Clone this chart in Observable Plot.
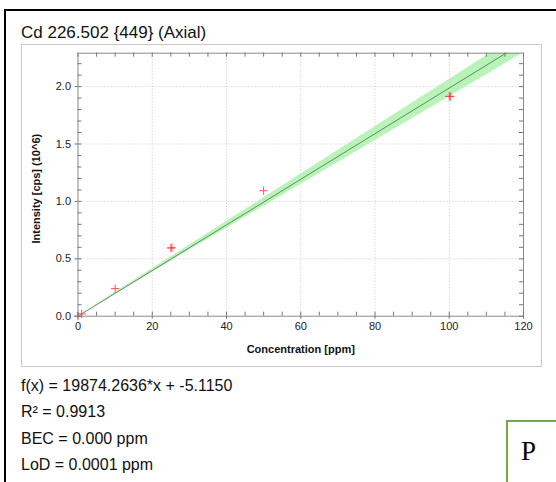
<!DOCTYPE html>
<html>
<head>
<meta charset="utf-8">
<script src="https://cdn.jsdelivr.net/npm/d3@7"></script>
<script src="https://cdn.jsdelivr.net/npm/@observablehq/plot@0.6"></script>
<style>
  html, body { margin: 0; padding: 0; background: #fff; }
  body { width: 556px; height: 482px; position: relative; overflow: hidden; font-family: "Liberation Sans", Arial, sans-serif; }
  .abs { position: absolute; }
  #frameTop { left: 4px; top: 9px; width: 552px; height: 2px; background: #000; }
  #frameLeft { left: 4px; top: 9px; width: 2px; height: 473px; background: #000; }
  #box { left: 21px; top: 44px; width: 519px; height: 321px; border: 1.5px solid #c8c8c8; }
  #title { left: 21px; top: 23px; font-size: 17px; color: #111; white-space: nowrap; }
  .stat { left: 21px; font-size: 16px; color: #111; white-space: nowrap; }
  #pbox { left: 506px; top: 420px; width: 60px; height: 70px; border: 2px solid #70ad47; box-sizing: border-box; }
  #pbox span { position: absolute; left: 13px; top: 14px; font-family: "Liberation Serif", "Times New Roman", serif; font-size: 27px; color: #000; }
  #chart { left: 0; top: 0; }
</style>
</head>
<body>
<div id="frameTop" class="abs"></div>
<div id="frameLeft" class="abs"></div>
<div id="box" class="abs"></div>
<div id="title" class="abs">Cd 226.502 {449} (Axial)</div>
<div id="chart" class="abs"></div>
<div class="abs stat" id="s1" style="top:377px">f(x) = 19874.2636*x + -5.1150</div>
<div class="abs stat" id="s2" style="top:403px">R² = 0.9913</div>
<div class="abs stat" id="s3" style="top:430px">BEC = 0.000 ppm</div>
<div class="abs stat" id="s4" style="top:456px">LoD = 0.0001 ppm</div>
<div id="pbox" class="abs"><span>P</span></div>
<script>
// Measured standards (concentration in ppm, intensity in 10^6 cps)
const stdConc = [0, 1, 10, 25, 25.3, 50, 100, 100.3];
const stdIntensity = [0.0, 0.02, 0.24, 0.595, 0.595, 1.093, 1.915, 1.915];

// Calibration fit line (endpoints) f(x) = 19874.2636*x - 5.1150
const fitConc = [0, 120];
const fitIntensity = [-0.000005, 2.385];

// Confidence band edges
const bandConc = [0, 20, 40, 60, 80, 100, 120];
const bandLow = [0.0, 0.383, 0.766, 1.147, 1.530, 1.912, 2.295];
const bandHigh = [0.001, 0.413, 0.825, 1.237, 1.650, 2.062, 2.475];

// Axis ticks
const xMajor = [0, 20, 40, 60, 80, 100, 120];
const xMinor = d3.range(0, 121, 5);
const yMajor = [0, 0.5, 1.0, 1.5, 2.0];
const yMinor = d3.range(0, 23).map(i => i / 10);
const xGrid = [20, 40, 60, 80, 100];
const yGrid = [0.5, 1.0, 1.5, 2.0];

const points = stdConc.map((c, i) => ({x: c, y: stdIntensity[i]}));
const fit = fitConc.map((c, i) => ({x: c, y: fitIntensity[i]}));
const band = bandConc.map((c, i) => ({x: c, lo: bandLow[i], hi: bandHigh[i]}));

const W = 556, H = 482;
const mL = 77.5, mR = 33, mT = 52.7, mB = 166.3;
const innerH = H - mT - mB, innerW = W - mL - mR;
const tk = 4;

const chart = Plot.plot({
  width: W,
  height: H,
  marginLeft: mL,
  marginRight: mR,
  marginTop: mT,
  marginBottom: mB,
  style: {fontFamily: "Liberation Sans, Arial, sans-serif", fontSize: "11px", color: "#222", background: "transparent"},
  x: {domain: [0, 120]},
  y: {domain: [0, 2.291]},
  marks: [
    Plot.ruleX(xGrid, {stroke: "#c8c8c8", strokeDasharray: "1,2", strokeWidth: 1}),
    Plot.ruleY(yGrid, {stroke: "#c8c8c8", strokeDasharray: "1,2", strokeWidth: 1}),
    Plot.areaY(band, {x: "x", y1: "lo", y2: "hi", fill: "#b0f2b0", fillOpacity: 0.9, clip: true}),
    Plot.line(fit, {x: "x", y: "y", stroke: "#4f6f4f", strokeWidth: 0.8, clip: true}),
    Plot.dot(points, {x: "x", y: "y", symbol: "plus", r: 2.8, stroke: "#ff4040", strokeWidth: 0.9}),
    Plot.frame({stroke: "#8a8a8a", strokeWidth: 1}),
    // inward ticks on all four sides
    Plot.ruleX(xMinor, {insetTop: innerH - tk, stroke: "#777"}),
    Plot.ruleX(xMinor, {insetBottom: innerH - tk, stroke: "#777"}),
    Plot.ruleY(yMinor, {insetRight: innerW - tk, stroke: "#777"}),
    Plot.ruleY(yMinor, {insetLeft: innerW - tk, stroke: "#777"}),
    Plot.axisX(xMajor, {tickSize: 3, tickPadding: 3, stroke: "#777", label: null, tickFormat: d => d3.format("d")(d)}),
    Plot.axisY(yMajor, {tickSize: 3, tickPadding: 4, stroke: "#777", label: null, tickFormat: d3.format(".1f")}),
    Plot.text(["Concentration [ppm]"], {frameAnchor: "bottom", dy: 37, fontWeight: "bold", fontSize: 11, fill: "#111"}),
    Plot.text(["Intensity [cps] (10^6)"], {frameAnchor: "left", dx: -42, dy: 4, rotate: -90, textAnchor: "middle", fontWeight: "bold", fontSize: 11, fill: "#111"})
  ]
});
document.getElementById("chart").appendChild(chart);
</script>
</body>
</html>
